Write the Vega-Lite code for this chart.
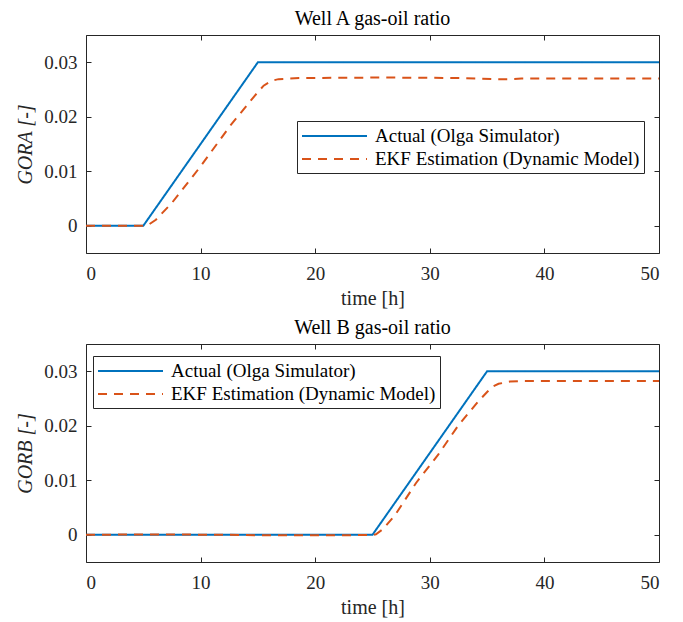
{
  "$schema": "https://vega.github.io/schema/vega-lite/v6.json",
  "background": "white",
  "padding": {"left": 15, "top": 8, "right": 20, "bottom": 5},
  "spacing": 8,
  "datasets": {
    "a": [
      {"t": 0, "v": 0, "s": "Actual (Olga Simulator)"},
      {"t": 5, "v": 0, "s": "Actual (Olga Simulator)"},
      {"t": 15, "v": 0.03, "s": "Actual (Olga Simulator)"},
      {"t": 50, "v": 0.03, "s": "Actual (Olga Simulator)"},
      {"t": 0, "v": 0, "s": "EKF Estimation (Dynamic Model)"},
      {"t": 2.5, "v": 0, "s": "EKF Estimation (Dynamic Model)"},
      {"t": 5, "v": 0, "s": "EKF Estimation (Dynamic Model)"},
      {"t": 5.4, "v": 0.0001, "s": "EKF Estimation (Dynamic Model)"},
      {"t": 6.1, "v": 0.0011, "s": "EKF Estimation (Dynamic Model)"},
      {"t": 7.5, "v": 0.0042, "s": "EKF Estimation (Dynamic Model)"},
      {"t": 10, "v": 0.0109, "s": "EKF Estimation (Dynamic Model)"},
      {"t": 12.6, "v": 0.0184, "s": "EKF Estimation (Dynamic Model)"},
      {"t": 14.7, "v": 0.0238, "s": "EKF Estimation (Dynamic Model)"},
      {"t": 15.5, "v": 0.0257, "s": "EKF Estimation (Dynamic Model)"},
      {"t": 16.2, "v": 0.0266, "s": "EKF Estimation (Dynamic Model)"},
      {"t": 16.8, "v": 0.0269, "s": "EKF Estimation (Dynamic Model)"},
      {"t": 18.6, "v": 0.0271, "s": "EKF Estimation (Dynamic Model)"},
      {"t": 26, "v": 0.0272, "s": "EKF Estimation (Dynamic Model)"},
      {"t": 33, "v": 0.0271, "s": "EKF Estimation (Dynamic Model)"},
      {"t": 35.5, "v": 0.0269, "s": "EKF Estimation (Dynamic Model)"},
      {"t": 37, "v": 0.0269, "s": "EKF Estimation (Dynamic Model)"},
      {"t": 38, "v": 0.027, "s": "EKF Estimation (Dynamic Model)"},
      {"t": 50, "v": 0.027, "s": "EKF Estimation (Dynamic Model)"}
    ],
    "b": [
      {"t": 0, "v": 0, "s": "Actual (Olga Simulator)"},
      {"t": 25, "v": 0, "s": "Actual (Olga Simulator)"},
      {"t": 35, "v": 0.03, "s": "Actual (Olga Simulator)"},
      {"t": 50, "v": 0.03, "s": "Actual (Olga Simulator)"},
      {"t": 0, "v": 0, "s": "EKF Estimation (Dynamic Model)"},
      {"t": 6, "v": 0.00005, "s": "EKF Estimation (Dynamic Model)"},
      {"t": 12, "v": 0, "s": "EKF Estimation (Dynamic Model)"},
      {"t": 15, "v": -0.0001, "s": "EKF Estimation (Dynamic Model)"},
      {"t": 20, "v": -0.0001, "s": "EKF Estimation (Dynamic Model)"},
      {"t": 25, "v": -0.00005, "s": "EKF Estimation (Dynamic Model)"},
      {"t": 25.3, "v": 0.0001, "s": "EKF Estimation (Dynamic Model)"},
      {"t": 25.9, "v": 0.001, "s": "EKF Estimation (Dynamic Model)"},
      {"t": 27, "v": 0.0037, "s": "EKF Estimation (Dynamic Model)"},
      {"t": 28.8, "v": 0.0095, "s": "EKF Estimation (Dynamic Model)"},
      {"t": 30.7, "v": 0.0146, "s": "EKF Estimation (Dynamic Model)"},
      {"t": 32.5, "v": 0.0201, "s": "EKF Estimation (Dynamic Model)"},
      {"t": 34.2, "v": 0.0244, "s": "EKF Estimation (Dynamic Model)"},
      {"t": 35, "v": 0.0262, "s": "EKF Estimation (Dynamic Model)"},
      {"t": 35.5, "v": 0.0272, "s": "EKF Estimation (Dynamic Model)"},
      {"t": 36, "v": 0.0277, "s": "EKF Estimation (Dynamic Model)"},
      {"t": 37, "v": 0.0281, "s": "EKF Estimation (Dynamic Model)"},
      {"t": 37.8, "v": 0.0282, "s": "EKF Estimation (Dynamic Model)"},
      {"t": 50, "v": 0.0282, "s": "EKF Estimation (Dynamic Model)"}
    ]
  },
  "vconcat": [
    {
      "title": "Well A gas-oil ratio",
      "width": 573,
      "height": 218,
      "data": {"name": "a"},
      "layer": [
        {
          "mark": {"type": "line", "strokeWidth": 2},
          "encoding": {
            "x": {"field": "t", "type": "quantitative", "title": "time [h]",
              "scale": {"domain": [0, 50], "nice": false},
              "axis": {"values": [0, 10, 20, 30, 40, 50]}},
            "y": {"field": "v", "type": "quantitative", "title": "GORA [-]",
              "scale": {"domain": [-0.005, 0.035], "nice": false},
              "axis": {"values": [0, 0.01, 0.02, 0.03], "format": ".2~f"}},
            "color": {"field": "s", "type": "nominal",
              "scale": {"domain": ["Actual (Olga Simulator)", "EKF Estimation (Dynamic Model)"], "range": ["#0072BD", "#D95319"]},
              "legend": {"orient": "none", "legendX": 211, "legendY": 86}},
            "strokeDash": {"field": "s", "type": "nominal",
              "scale": {"domain": ["Actual (Olga Simulator)", "EKF Estimation (Dynamic Model)"], "range": [[1, 0], [9, 7]]},
              "legend": {"orient": "none", "legendX": 211, "legendY": 86}}
          }
        },
        {
          "mark": {"type": "line", "opacity": 0},
          "encoding": {
            "x": {"field": "t", "type": "quantitative", "axis": {"orient": "top", "values": [0, 10, 20, 30, 40, 50], "labels": false, "title": null}},
            "y": {"field": "v", "type": "quantitative", "axis": {"orient": "right", "values": [0, 0.01, 0.02, 0.03], "labels": false, "title": null}}
          }
        }
      ],
      "resolve": {"axis": {"x": "independent", "y": "independent"}}
    },
    {
      "title": "Well B gas-oil ratio",
      "width": 573,
      "height": 218,
      "data": {"name": "b"},
      "layer": [
        {
          "mark": {"type": "line", "strokeWidth": 2},
          "encoding": {
            "x": {"field": "t", "type": "quantitative", "title": "time [h]",
              "scale": {"domain": [0, 50], "nice": false},
              "axis": {"values": [0, 10, 20, 30, 40, 50]}},
            "y": {"field": "v", "type": "quantitative", "title": "GORB [-]",
              "scale": {"domain": [-0.005, 0.035], "nice": false},
              "axis": {"values": [0, 0.01, 0.02, 0.03], "format": ".2~f"}},
            "color": {"field": "s", "type": "nominal",
              "scale": {"domain": ["Actual (Olga Simulator)", "EKF Estimation (Dynamic Model)"], "range": ["#0072BD", "#D95319"]},
              "legend": {"orient": "none", "legendX": 7, "legendY": 12}},
            "strokeDash": {"field": "s", "type": "nominal",
              "scale": {"domain": ["Actual (Olga Simulator)", "EKF Estimation (Dynamic Model)"], "range": [[1, 0], [9, 7]]},
              "legend": {"orient": "none", "legendX": 7, "legendY": 12}}
          }
        },
        {
          "mark": {"type": "line", "opacity": 0},
          "encoding": {
            "x": {"field": "t", "type": "quantitative", "axis": {"orient": "top", "values": [0, 10, 20, 30, 40, 50], "labels": false, "title": null}},
            "y": {"field": "v", "type": "quantitative", "axis": {"orient": "right", "values": [0, 0.01, 0.02, 0.03], "labels": false, "title": null}}
          }
        }
      ],
      "resolve": {"axis": {"x": "independent", "y": "independent"}, "legend": {"color": "independent", "strokeDash": "independent"}}
    }
  ],
  "resolve": {"legend": {"color": "independent", "strokeDash": "independent"}},
  "config": {
    "font": "Liberation Serif, serif",
    "view": {"stroke": "#262626", "strokeWidth": 1},
    "title": {"fontSize": 20, "fontWeight": "normal", "color": "#000000", "offset": 6, "font": "Liberation Serif, serif"},
    "axis": {
      "grid": false,
      "domain": false,
      "tickColor": "#262626",
      "tickSize": -5,
      "labelFontSize": 19,
      "labelColor": "#262626",
      "labelFont": "Liberation Serif, serif",
      "titleFont": "Liberation Serif, serif",
      "titleFontSize": 20,
      "titleFontWeight": "normal",
      "titleColor": "#262626"
    },
    "axisX": {"labelPadding": 16, "titlePadding": 5},
    "axisY": {"labelPadding": 14, "titlePadding": 8, "titleFontStyle": "italic"},
    "legend": {
      "title": null,
      "labelFontSize": 19,
      "labelLimit": 400,
      "labelFont": "Liberation Serif, serif",
      "labelColor": "#000000",
      "strokeColor": "#262626",
      "fillColor": "#ffffff",
      "padding": 4,
      "rowPadding": 2,
      "symbolType": "M-1,0H5.5",
      "symbolSize": 400,
      "symbolStrokeWidth": 2,
      "labelOffset": 52,
      "cornerRadius": 0
    }
  }
}
